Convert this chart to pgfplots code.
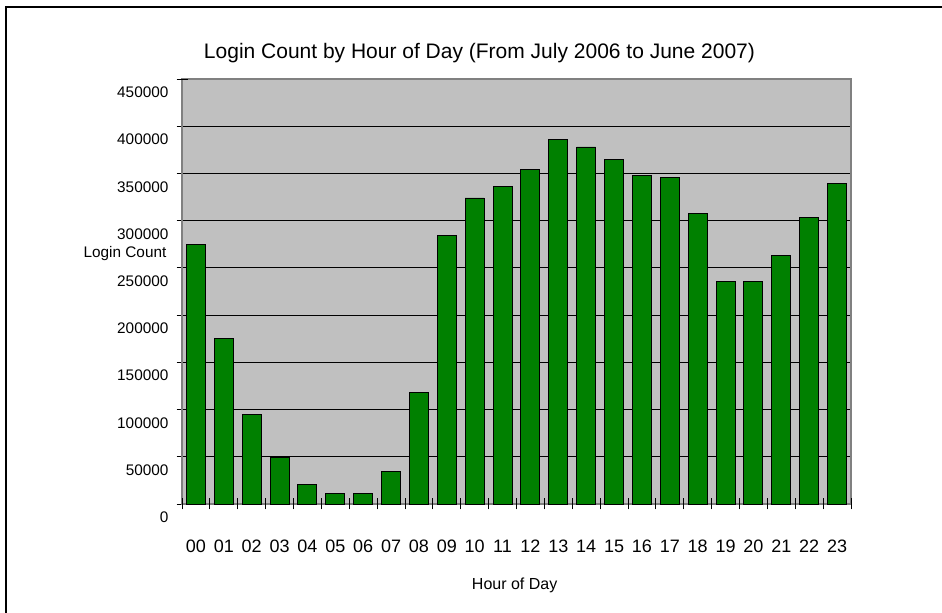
\documentclass[border=0pt]{standalone}
\usepackage{pgfplots}
\pgfplotsset{compat=1.18}
\usepackage{fontspec}
\setmainfont{Liberation Sans}
\definecolor{bargreen}{RGB}{0,128,0}
\definecolor{plotgray}{RGB}{192,192,192}
\definecolor{framegray}{RGB}{128,128,128}
\begin{document}
\begin{tikzpicture}
\useasboundingbox (0,0) rectangle (706.5pt,459.75pt);
\fill[white] (0,0) rectangle (706.5pt,459.75pt);
\draw[line width=1.1pt] (4.5pt,-1pt) -- (4.5pt,454.5pt) -- (707.5pt,454.5pt);
\begin{axis}[
  at={(136.5pt,81.75pt)}, anchor=south west,
  scale only axis, width=501.75pt, height=318.75pt,
  ybar, bar width=14.25pt,
  xmin=-0.5, xmax=23.5, ymin=0, ymax=450000,
  enlargelimits=false,
  axis background/.style={fill=plotgray},
  axis line style={draw=framegray, line width=0.8pt},
  xtick pos=bottom, ytick pos=left,
  ytick={0,50000,...,400000},
  extra y ticks={450000},
  extra y tick style={grid=none},
  scaled y ticks=false,
  yticklabel style={/pgf/number format/fixed, /pgf/number format/1000 sep={}, anchor=east, xshift=-2.55pt, yshift=-10pt, font=\fontsize{11.5}{13}\selectfont},
  /pgf/number format/assume math mode=true,
  ymajorgrids=true,
  major grid style={draw=black, line width=0.6pt},
  xtick={0,...,23},
  xticklabels={00,01,02,03,04,05,06,07,08,09,10,11,12,13,14,15,16,17,18,19,20,21,22,23},
  xticklabel style={anchor=base, yshift=-32.6pt, font=\fontsize{13.5}{15}\selectfont},
  xtick style={draw=none},
  extra x ticks={-0.5,0.5,...,23.5},
  extra x tick labels={},
  extra x tick style={grid=none, xtick style={draw=black}},
  major tick length=8.25pt,
  tick align=center,
  tick style={black, line width=0.6pt},
  ytick style={black},
  clip=false,
]
\addplot[fill=bargreen, draw=black, line width=0.7pt] coordinates {
(0,275000) (1,175000) (2,95000) (3,49000) (4,21000) (5,11600)
(6,11600) (7,34000) (8,118000) (9,284000) (10,324000) (11,336000)
(12,354000) (13,386000) (14,378000) (15,365000) (16,348000) (17,346000)
(18,308000) (19,236000) (20,236000) (21,263000) (22,303000) (23,339000)
};
\end{axis}
\node[font=\fontsize{15.75}{18}\selectfont, anchor=base] at (359.6pt,415.5pt) {Login Count by Hour of Day (From July 2006 to June 2007)};
\node[font=\fontsize{11.5}{13}\selectfont, anchor=base] at (93.75pt,266.8pt) {Login Count};
\node[font=\fontsize{12}{14}\selectfont, anchor=base] at (386pt,17.25pt) {Hour of Day};
\end{tikzpicture}
\end{document}
